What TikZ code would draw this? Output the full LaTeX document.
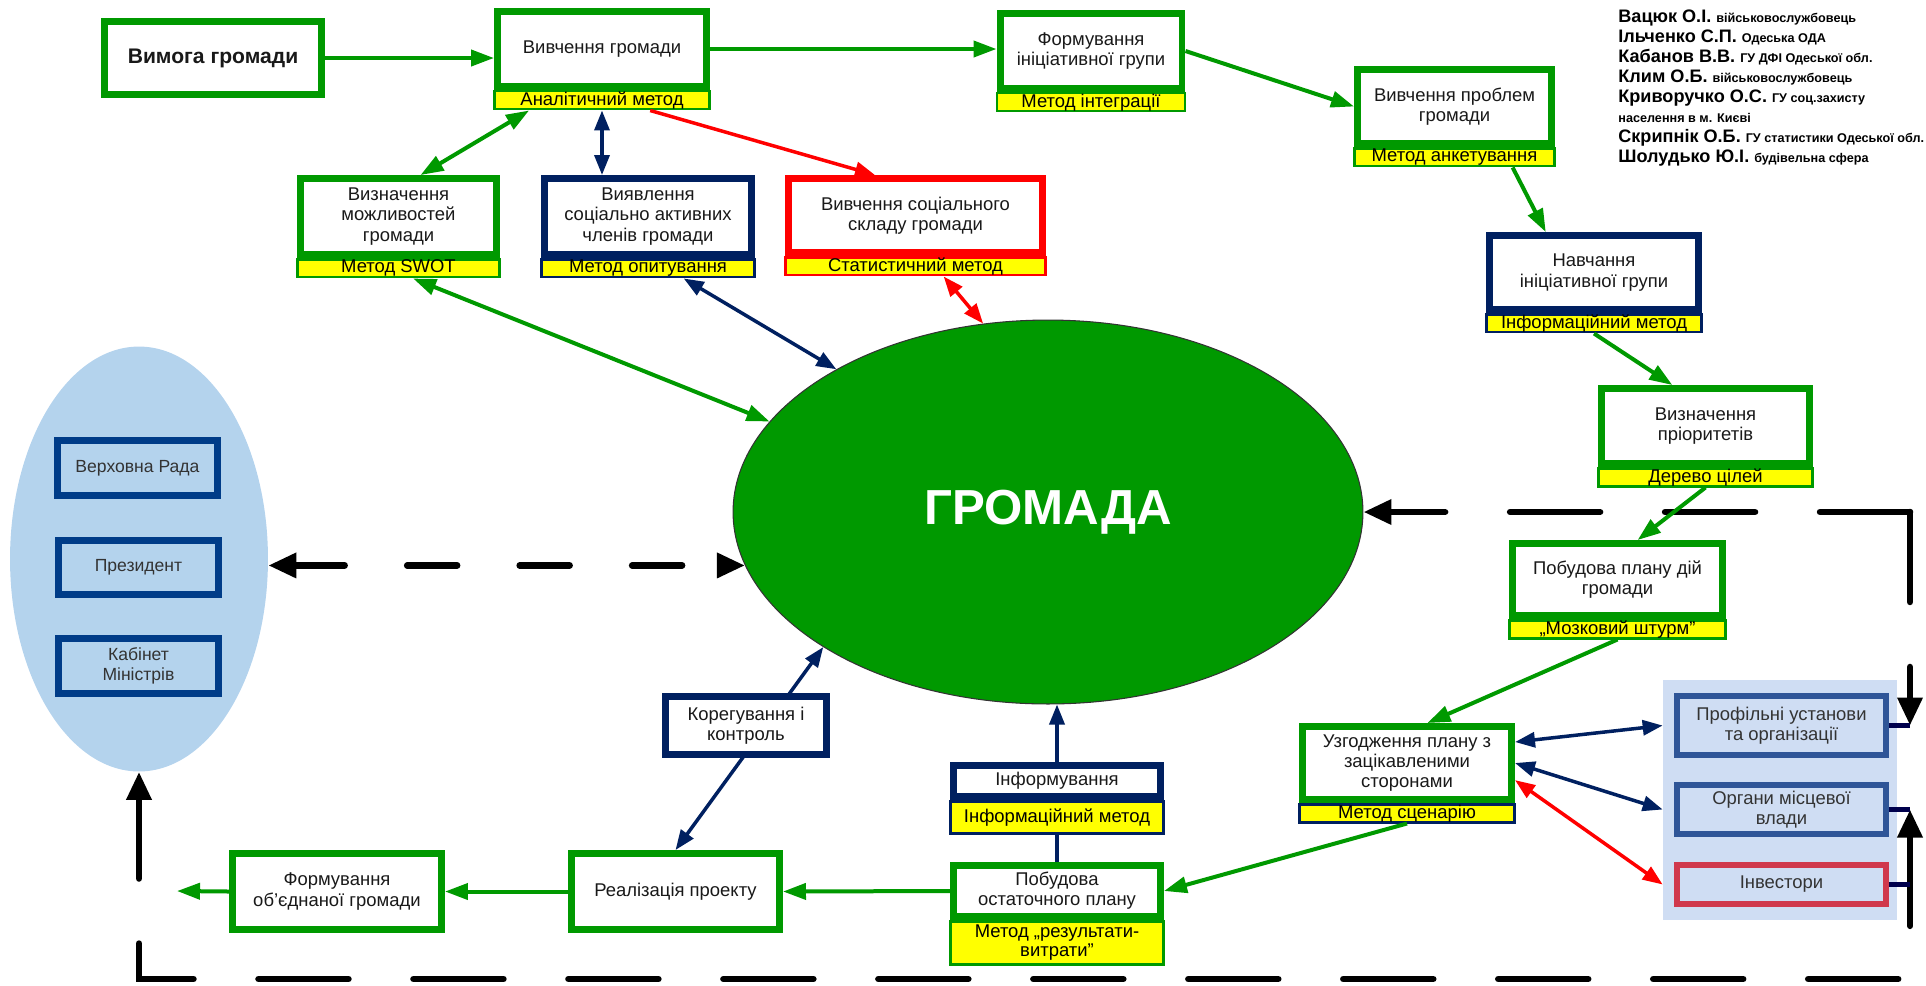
\documentclass[tikz,border=0pt]{standalone}
\usepackage{fontspec}
\setmainfont{Liberation Sans}
\usetikzlibrary{positioning,shapes.geometric,arrows.meta}

\definecolor{grn}{RGB}{0,153,0}
\definecolor{navy}{RGB}{0,32,96}
\definecolor{yel}{RGB}{255,255,0}
\definecolor{lblue}{RGB}{180,211,237}
\definecolor{sbg}{RGB}{207,221,243}
\definecolor{sblue}{RGB}{47,85,151}
\definecolor{sred}{RGB}{208,56,76}
\definecolor{dblue}{RGB}{0,60,136}

\tikzset{
  basebox/.style={rectangle, fill=white, line width=0.14cm, align=center, inner sep=1pt,
    font=\fontsize{10.5}{11.5}\selectfont, text=black!90},
  gbox/.style={basebox, draw=grn},
  nbox/.style={basebox, draw=navy},
  rbox/.style={basebox, draw=red},
  ylab/.style={rectangle, fill=yel, line width=0.05cm, inner sep=0pt, minimum height=0.36cm,
    align=center, font=\fontsize{10.5}{11}\selectfont},
  sbox/.style={rectangle, fill=sbg, draw=sblue, line width=0.12cm, align=center,
    font=\fontsize{10.5}{11.5}\selectfont, text=black!80, minimum width=4.18cm},
  vbox/.style={rectangle, fill=lblue, draw=dblue, line width=0.14cm, align=center,
    font=\fontsize{10}{11.5}\selectfont, text=black!80, minimum width=3.2cm},
  garrow/.style={draw=grn, line width=0.08cm, >={Triangle[length=0.46cm,width=0.32cm]}},
  navyarrow/.style={draw=navy, line width=0.07cm, >={Triangle[length=0.4cm,width=0.3cm]}},
  redarrow/.style={draw=red, line width=0.07cm, >={Triangle[length=0.4cm,width=0.3cm]}},
  dashline/.style={draw=black, line width=0.13cm, line cap=round, dash pattern=on 1.8cm off 1.3cm,
    >={Triangle[length=0.56cm,width=0.48cm]}},
  stub/.style={draw=black!70!blue, line width=0.1cm},
  roster/.style={anchor=base west, inner sep=0pt, font=\bfseries\fontsize{10.3}{12}\selectfont}
}

\begin{document}
\begin{tikzpicture}[x=0.02cm,y=-0.02cm]
\useasboundingbox (0,0) rectangle (1926,985);

% organs of power
\node[ellipse, fill=lblue, minimum width=5.16cm, minimum height=8.5cm] (vlada) at (139,559) {};
\node[vbox, minimum height=1.1cm] (verkh) at (137.5,468) {Верховна Рада};
\node[vbox, minimum height=1.08cm] (prez) at (138.5,567.5) {Президент};
\node[vbox, minimum height=1.1cm] (kab) at (138.5,666) {Кабінет\\Міністрів};

% community
\node[ellipse, fill=grn, draw=black!80, line width=0.6pt, minimum width=12.6cm, minimum height=7.68cm,
  text=white, font=\bfseries\fontsize{28}{30}\selectfont] (gromada) at (1048,512) {ГРОМАДА};

% stakeholders
\node[rectangle, fill=sbg, minimum width=4.68cm, minimum height=4.8cm] (storony) at (1780,800) {};
\node[sbox, minimum height=1.18cm] (prof) at (1781.5,725.5) {Профільні установи\\та організації};
\node[sbox, minimum height=0.98cm] (organy) at (1781.5,809.5) {Органи місцевої\\влади};
\node[sbox, draw=sred, minimum height=0.78cm] (invest) at (1781.5,884.5) {Інвестори};

% top row
\node[gbox, minimum width=4.34cm, minimum height=1.46cm, font=\bfseries\fontsize{12}{14}\selectfont] (vymoga) at (213,58) {Вимога громади};
\node[gbox, minimum width=4.18cm, minimum height=1.5cm] (vyvch) at (602,49) {Вивчення громади};
\node[ylab, draw=grn, minimum width=4.3cm, below=0pt of vyvch] (vyvchm) {Аналітичний метод};
\node[gbox, minimum width=3.64cm, minimum height=1.5cm] (forming) at (1091,51) {Формування\\ініціативної групи};
\node[ylab, draw=grn, minimum width=3.76cm, below=0pt of forming] (formingm) {Метод інтеграції};
\node[gbox, minimum width=3.88cm, minimum height=1.48cm] (problems) at (1454.5,106.5) {Вивчення проблем\\громади};
\node[ylab, draw=grn, minimum width=4cm, below=0pt of problems] (problemsm) {Метод анкетування};

% second row
\node[gbox, minimum width=3.92cm, minimum height=1.52cm] (mozhl) at (398.5,216.5) {Визначення\\можливостей\\громади};
\node[ylab, draw=grn, minimum width=4.04cm, below=0pt of mozhl] (mozhlm) {Метод SWOT};
\node[nbox, minimum width=4.14cm, minimum height=1.52cm] (aktyv) at (648,216.5) {Виявлення\\соціально активних\\членів громади};
\node[ylab, draw=navy, minimum width=4.26cm, below=0pt of aktyv] (aktyvm) {Метод опитування};
\node[rbox, minimum width=5.08cm, minimum height=1.48cm] (sklad) at (915.5,215.5) {Вивчення соціального\\складу громади};
\node[ylab, draw=red, minimum width=5.2cm, below=0pt of sklad] (skladm) {Статистичний метод};

% right column
\node[nbox, minimum width=4.18cm, minimum height=1.48cm] (navch) at (1594,272.5) {Навчання\\ініціативної групи};
\node[ylab, draw=navy, minimum width=4.3cm, below=0pt of navch] (navchm) {Інформаційний метод};
\node[gbox, minimum width=4.16cm, minimum height=1.5cm] (priory) at (1705.5,426) {Визначення\\пріоритетів};
\node[ylab, draw=grn, minimum width=4.28cm, below=0pt of priory] (priorym) {Дерево цілей};
\node[gbox, minimum width=4.2cm, minimum height=1.44cm] (plan) at (1617.5,579.5) {Побудова плану дій\\громади};
\node[ylab, draw=grn, minimum width=4.32cm, below=0pt of plan] (planm) {„Мозковий штурм”};
\node[gbox, minimum width=4.18cm, minimum height=1.46cm] (uzgod) at (1407,763) {Узгодження плану з\\зацікавленими\\сторонами};
\node[ylab, draw=navy, minimum width=4.3cm, below=0pt of uzgod] (uzgodm) {Метод сценарію};

% bottom row
\node[gbox, minimum width=4.14cm, minimum height=1.02cm] (ostat) at (1057,891) {Побудова\\остаточного плану};
\node[ylab, draw=grn, minimum width=4.26cm, minimum height=0.86cm, below=0pt of ostat] (ostatm) {Метод „результати-\\витрати”};
\node[nbox, minimum width=4.14cm, minimum height=0.62cm] (inform) at (1057,781) {Інформування};
\node[ylab, draw=navy, minimum width=4.26cm, minimum height=0.64cm, below=0pt of inform] (informm) {Інформаційний метод};
\node[gbox, minimum width=4.16cm, minimum height=1.52cm] (real) at (675.5,891.5) {Реалізація проекту};
\node[gbox, minimum width=4.18cm, minimum height=1.52cm] (obyed) at (337,891.5) {Формування\\об’єднаної громади};

% dashed frame
\coordinate (c-ne) at (1910,512);
\coordinate (c-se) at (1910,979);
\coordinate (c-prof) at (c-ne |- prof.east);
\coordinate (c-org) at (c-ne |- organy.east);
\coordinate (c-inv) at (c-ne |- invest.east);
\coordinate (c-sw) at (vlada.south |- c-se);
\coordinate (out) at (177,891);
\draw[dashline,->] (c-ne) -- (gromada.east);
\draw[dashline,->] (c-ne) -- (c-prof);
\draw[dashline,<->] (c-org) -- (c-se) -- (c-sw) -- (vlada.south);
\draw[dashline,<->,dash pattern=on 1cm off 1.25cm] (vlada.east |- gromada.190) -- (gromada.190);
\draw[stub] (prof.east) -- (c-prof);
\draw[stub] (organy.east) -- (c-org);
\draw[stub] (invest.east) -- (c-inv);

% main chain
\draw[garrow,->] (vymoga.east) -- (vyvch.west |- vymoga.east);
\draw[garrow,->] (vyvch.east) -- (forming.west |- vyvch.east);
\draw[garrow,->] (forming.east) -- (problems.west);
\draw[garrow,->] (problemsm.-10) -- (navch.140);
\draw[garrow,->] (navchm.south) -- (priory.129);
\draw[garrow,->] (priorym.south) -- (plan.63);
\draw[garrow,->] (planm.south) -- (uzgod.63);
\draw[garrow,->] (uzgodm.south) -- (ostat.east);
\draw[garrow,->] (ostat.west) -- (real.east);
\draw[garrow,->] (real.west) -- (obyed.east);
\draw[garrow,->] (obyed.west) -- (out);

% study of the community
\draw[garrow,<->] (vyvchm.-172) -- (mozhl.62);
\draw[navyarrow,<->] (vyvchm.south) -- (aktyv.north -| vyvchm.south);
\draw[redarrow,->] (vyvchm.-12) -- (sklad.135);
\draw[garrow,<->] (mozhlm.-35) -- (gromada.162);
\draw[navyarrow,<->] (aktyvm.-16) -- (gromada.146);
\draw[redarrow,<->] (skladm.-20) -- (gromada.109);

% control and informing
\draw[navyarrow,<->] (real.north) -- (gromada.211);
\node[nbox, minimum width=3.22cm, minimum height=1.16cm] (koreg) at (746,725.5) {Корегування і\\контроль};
\draw[navyarrow] (ostat.north) -- (informm.south);
\draw[navyarrow,->] (inform.north) -- (gromada.south -| inform.north);

% stakeholders links
\draw[navyarrow,<->] (uzgod.11) -- (storony.west |- prof.west);
\draw[navyarrow,<->] (uzgod.east) -- (storony.west |- organy.west);
\draw[redarrow,<->] (uzgod.-9) -- (storony.west |- invest.west);

% working group
\foreach \who/\what [count=\i] in {{Вацюк О.І.\ }/{військовослужбовець}, {Ільченко С.П.\ }/{Одеська ОДА},
  {Кабанов В.В.\ }/{ГУ ДФІ Одеської обл.}, {Клим О.Б.\ }/{військовослужбовець},
  {Криворучко О.С.\ }/{ГУ соц.захисту}, {}/{населення в м. Києві},
  {Скрипнік О.Б.\ }/{ГУ статистики Одеської обл.}, {Шолудько Ю.І.\ }/{будівельна сфера}}
  \node[roster] (who\i) at (1618,2+20*\i) {\who{\fontsize{7.2}{8}\selectfont\what}};
\end{tikzpicture}
\end{document}
